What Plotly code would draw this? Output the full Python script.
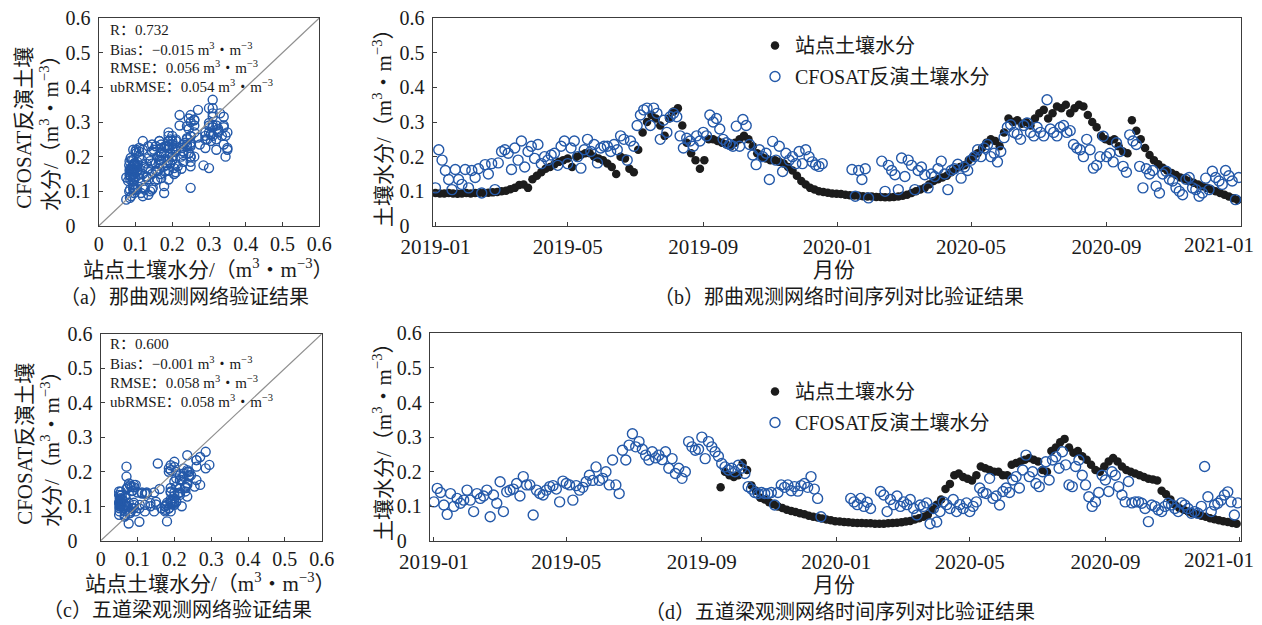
import plotly.graph_objects as go
import pandas as pd

# ---------------- data ----------------
START = "2019-01-01"
TICK_DATES = ["2019-01-01", "2019-05-01", "2019-09-01", "2020-01-01",
              "2020-05-01", "2020-09-01", "2021-01-01"]
TICK_TEXT = ["2019-01", "2019-05", "2019-09", "2020-01", "2020-05", "2020-09", "2021-01"]
SM_TICKS = [0, 0.1, 0.2, 0.3, 0.4, 0.5, 0.6]

# Naqu station soil moisture, one value every 4 days from 2019-01-01
naqu_station = [
    0.095, 0.094, 0.094, 0.095, 0.094, 0.093, 0.094, 0.095, 0.094, 0.095, 0.096, 0.095, 0.096, 0.097, 0.098,
    0.100, 0.102, 0.106, 0.110, 0.118, 0.120, 0.110,
    0.135, 0.145, 0.155, 0.165, 0.170, 0.178, 0.185, 0.190,
    0.195, 0.170, 0.200, 0.205, 0.210, 0.210, 0.200, 0.195, 0.190, 0.180, 0.170, 0.150, 0.200, 0.195, 0.165, 0.155,
    0.220, 0.270, 0.300, 0.320, 0.310, 0.290, 0.260, 0.310, 0.330, 0.340, 0.290, 0.240, 0.210, 0.190, 0.165, 0.190,
    0.250, 0.250, 0.245, 0.240, 0.235, 0.230, 0.240, 0.250, 0.260, 0.250, 0.230, 0.210, 0.200, 0.195, 0.190,
    0.190, 0.185, 0.180, 0.170, 0.160, 0.145, 0.130, 0.120, 0.110, 0.105, 0.100, 0.098, 0.096, 0.094, 0.093,
    0.092, 0.090, 0.089, 0.088, 0.087, 0.086, 0.085, 0.085, 0.084, 0.084, 0.083, 0.083, 0.084, 0.085,
    0.087, 0.090, 0.095, 0.100, 0.105, 0.110, 0.120, 0.130, 0.135, 0.140, 0.145, 0.155, 0.165, 0.170,
    0.175, 0.190, 0.200, 0.210, 0.225, 0.240, 0.250, 0.245, 0.230, 0.270, 0.310, 0.300, 0.305,
    0.295, 0.300, 0.290, 0.310, 0.325, 0.335, 0.310, 0.325, 0.345, 0.340, 0.350, 0.325, 0.340, 0.350, 0.345, 0.320, 0.300, 0.285,
    0.260, 0.250, 0.245, 0.250, 0.230, 0.215, 0.210, 0.305, 0.275, 0.250, 0.225, 0.205, 0.190, 0.178, 0.168, 0.160,
    0.153, 0.147, 0.140, 0.135, 0.130, 0.125, 0.120, 0.115, 0.110, 0.105, 0.100, 0.095, 0.090, 0.085, 0.080, 0.075,
]

# Naqu CFOSAT retrieval, one slot every 3 days from 2019-01-01 (None = no retrieval)
naqu_cfosat = [
    0.110, 0.220, 0.190, 0.160, 0.134, 0.105, 0.163, 0.134, 0.120, 0.163,
    0.110, 0.160, 0.140, 0.165, 0.095, 0.177, 0.150, 0.180, 0.105, 0.182,
    0.215, 0.220, 0.210, 0.163, 0.225, 0.190, 0.245, 0.170, 0.215, 0.230,
    0.195, 0.235, 0.180, 0.200, 0.190, 0.205, 0.210, 0.175, 0.230, 0.245,
    0.180, 0.225, 0.245, 0.200, 0.167, 0.220, 0.250, 0.215, 0.235, 0.182,
    0.225, 0.230, 0.230, 0.215, 0.235, 0.220, 0.260, 0.250, 0.190, 0.245,
    0.230, 0.290, 0.320, 0.335, 0.340, 0.290, 0.340, 0.325, 0.250, 0.305,
    0.270, 0.315, 0.325, 0.315, 0.260, 0.225, 0.253, 0.245, 0.230, 0.260,
    0.245, 0.270, 0.260, 0.320, 0.300, 0.310, 0.280, 0.250, 0.240, 0.235,
    0.230, 0.288, 0.230, 0.307, 0.290, 0.235, 0.205, 0.177, 0.220, 0.200,
    0.210, 0.134, 0.244, 0.190, 0.230, 0.157, 0.210, 0.190, 0.200, 0.180,
    0.215, 0.180, 0.220, 0.200, 0.185, 0.176, 0.172, 0.180, None, None,
    None, None, None, None, None, None, 0.163, 0.086, 0.160, 0.134,
    0.165, 0.081, None, None, None, 0.187, 0.100, 0.175, 0.160, 0.148,
    0.105, 0.196, 0.143, 0.190, 0.175, 0.105, 0.160, 0.170, 0.148, 0.110,
    0.150, 0.143, 0.165, 0.187, 0.150, 0.105, 0.160, 0.165, 0.178, 0.138,
    0.170, 0.160, 0.190, 0.200, 0.220, 0.200, 0.225, 0.235, 0.200, 0.210,
    0.185, 0.215, 0.255, 0.285, 0.292, 0.270, 0.265, 0.250, 0.290, 0.297,
    0.270, 0.260, 0.285, 0.270, 0.260, 0.364, 0.280, 0.270, 0.260, 0.285,
    0.290, 0.270, 0.275, 0.235, 0.225, 0.220, 0.200, 0.250, 0.220, 0.167,
    0.175, 0.200, 0.259, 0.200, 0.210, 0.185, 0.240, 0.215, 0.172, 0.155,
    0.263, 0.245, 0.235, 0.172, 0.110, 0.165, 0.150, 0.160, 0.115, 0.095,
    0.150, 0.158, 0.135, 0.130, 0.110, 0.100, 0.090, 0.135, 0.140, 0.110,
    0.105, 0.086, 0.095, 0.138, 0.105, 0.158, 0.140, 0.130, 0.120, 0.160,
    0.145, 0.130, 0.076, 0.140,
]

# Wudaoliang station soil moisture, one value every 4 days from 2019-01-01
wdl_station = [None] * 65 + [
    0.155, 0.200, 0.190, 0.185, 0.190, 0.225, 0.205, 0.160, 0.145, 0.125, 0.120, 0.112, 0.106, 0.100,
    0.095, 0.090, 0.087, 0.084, 0.080, 0.077, 0.073, 0.070, 0.068, 0.065, 0.062, 0.060, 0.057,
    0.056, 0.055, 0.054, 0.053, 0.052, 0.052, 0.051, 0.051, 0.050, 0.050, 0.050, 0.051, 0.052, 0.053,
    0.054, 0.056, 0.058,
    0.062, 0.066, 0.070, 0.076, 0.090, 0.105, 0.120, 0.150, 0.165, 0.190, 0.195, 0.185, 0.180, 0.175,
    0.190, 0.215, 0.210, 0.205, 0.200, 0.200, 0.190, 0.190,
    0.220, 0.225, 0.230, 0.235, 0.240, 0.235, 0.230, 0.205, 0.200, 0.260, 0.270, 0.285, 0.295, 0.270,
    0.255, 0.260, 0.245, 0.235, 0.220, 0.205,
    0.200, 0.215, 0.230, 0.240, 0.230, 0.215, 0.205, 0.200, 0.195, 0.190, 0.185, 0.180, 0.178, 0.175,
    0.145, 0.135, 0.120, 0.105, 0.095, 0.090, 0.085, 0.080, 0.077, 0.073, 0.070, 0.066, 0.063, 0.060,
    0.057, 0.055, 0.052, 0.050,
]

# Wudaoliang CFOSAT retrieval, one slot every 3 days from 2019-01-01
wdl_cfosat = [
    0.113, 0.152, 0.140, 0.104, 0.077, 0.137, 0.100, 0.123, 0.109, 0.118,
    0.147, 0.118, 0.085, 0.137, 0.123, 0.130, 0.147, 0.070, 0.133, 0.109,
    0.171, 0.085, 0.142, 0.147, 0.150, 0.166, 0.130, 0.186, 0.162, 0.162,
    0.075, 0.147, 0.137, 0.133, 0.147, 0.157, 0.160, 0.150, 0.113, 0.173,
    0.166, 0.162, 0.118, 0.160, 0.147, 0.155, 0.171, 0.190, 0.175, 0.214,
    0.175, 0.181, 0.200, 0.162, 0.234, 0.162, 0.137, 0.262, 0.234, 0.277,
    0.310, 0.272, 0.287, 0.265, 0.248, 0.234, 0.258, 0.240, 0.248, 0.235,
    0.258, 0.210, 0.238, 0.195, 0.210, 0.181, 0.200, 0.287, 0.272, 0.262,
    0.265, 0.300, 0.238, 0.287, 0.272, 0.258, 0.245, 0.224, 0.214, 0.205,
    0.210, 0.200, 0.219, 0.210, 0.195, 0.157, 0.150, 0.140, 0.137, 0.140,
    0.137, 0.137, 0.140, 0.104, 0.140, 0.162, 0.155, 0.162, 0.145, 0.157,
    0.144, 0.160, 0.166, 0.155, 0.186, 0.150, 0.123, 0.070, None, None,
    None, None, None, None, None, None, 0.123, 0.113, 0.105, 0.123,
    0.100, 0.112, 0.094, None, None, 0.143, 0.133, 0.085, 0.120, 0.105,
    0.130, 0.100, 0.113, 0.105, 0.120, 0.094, 0.075, 0.104, 0.100, 0.110,
    0.050, 0.094, 0.055, 0.085, 0.113, 0.105, 0.094, 0.120, 0.085, 0.105,
    0.094, 0.110, 0.085, 0.100, 0.113, 0.153, 0.140, 0.137, 0.181, 0.123,
    0.130, 0.104, 0.143, 0.153, 0.140, 0.176, 0.186, 0.153, 0.205, 0.248,
    0.186, 0.200, 0.166, 0.157, 0.200, 0.229, 0.176, 0.234, 0.243, 0.210,
    0.258, 0.220, 0.162, 0.157, 0.215, 0.234, 0.190, 0.162, 0.128, 0.100,
    0.113, 0.140, 0.190, 0.176, 0.143, 0.200, 0.190, 0.157, 0.133, 0.113,
    0.172, 0.110, 0.113, 0.113, 0.109, 0.094, 0.056, 0.104, 0.100, 0.090,
    0.085, 0.100, 0.109, 0.104, 0.094, 0.085, 0.110, 0.104, 0.094, 0.080,
    0.085, 0.080, 0.100, 0.215, 0.128, 0.085, 0.104, 0.109, 0.118, 0.133,
    0.142, 0.113, 0.075, 0.110,
]

STATS_NAQU = ["R：0.732", "Bias：−0.015 m<sup>3</sup>・m<sup>−3</sup>",
              "RMSE：0.056 m<sup>3</sup>・m<sup>−3</sup>", "ubRMSE：0.054 m<sup>3</sup>・m<sup>−3</sup>"]
STATS_WDL = ["R：0.600", "Bias：−0.001 m<sup>3</sup>・m<sup>−3</sup>",
             "RMSE：0.058 m<sup>3</sup>・m<sup>−3</sup>", "ubRMSE：0.058 m<sup>3</sup>・m<sup>−3</sup>"]

ONE_TO_ONE = [0, 0.6]

station_dates = pd.date_range(START, periods=len(naqu_station), freq="4D")
cfosat_dates = pd.date_range(START, periods=len(naqu_cfosat), freq="3D")


def matched_pairs(station, cfosat):
    """Pair each CFOSAT retrieval with the station sample nearest in time."""
    xs, ys = [], []
    for i, v in enumerate(cfosat):
        if v is None:
            continue
        j = int(round(3 * i / 4))
        if j < len(station) and station[j] is not None:
            xs.append(station[j])
            ys.append(v)
    return xs, ys


naqu_x, naqu_y = matched_pairs(naqu_station, naqu_cfosat)
wdl_x, wdl_y = matched_pairs(wdl_station, wdl_cfosat)

# ---------------- styling ----------------
W, H = 1262, 625


def fx(px):
    return px / W


def fy(py):
    return 1 - py / H


SERIF = "Liberation Serif, Times New Roman, Noto Sans CJK SC, serif"
MIX = "Liberation Serif, Noto Sans CJK SC, serif"
BLUE = "#2459a9"
BLACK = "#1c1c1c"
TXT = "#1a1a1a"
LINE = "#3c3c3c"

fig = go.Figure()

# (a) scatter
fig.add_trace(go.Scatter(x=naqu_x, y=naqu_y, mode="markers", xaxis="x", yaxis="y",
                         marker=dict(symbol="circle-open", size=9, color=BLUE, line=dict(width=1.4, color=BLUE)),
                         showlegend=False))
fig.add_trace(go.Scatter(x=ONE_TO_ONE, y=ONE_TO_ONE, mode="lines", xaxis="x", yaxis="y",
                         line=dict(color="#8f8f8f", width=1.2), showlegend=False))
# (b) time series
fig.add_trace(go.Scatter(x=station_dates, y=naqu_station, mode="markers", xaxis="x2", yaxis="y2",
                         name="站点土壤水分", legend="legend", legendgroup="s1",
                         marker=dict(symbol="circle", size=8.5, color=BLACK)))
fig.add_trace(go.Scatter(x=cfosat_dates, y=naqu_cfosat, mode="markers", xaxis="x2", yaxis="y2",
                         name="CFOSAT反演土壤水分", legend="legend", legendgroup="c1",
                         marker=dict(symbol="circle-open", size=10, color=BLUE, line=dict(width=1.4, color=BLUE))))
# (c) scatter
fig.add_trace(go.Scatter(x=wdl_x, y=wdl_y, mode="markers", xaxis="x3", yaxis="y3",
                         marker=dict(symbol="circle-open", size=9, color=BLUE, line=dict(width=1.4, color=BLUE)),
                         showlegend=False))
fig.add_trace(go.Scatter(x=ONE_TO_ONE, y=ONE_TO_ONE, mode="lines", xaxis="x3", yaxis="y3",
                         line=dict(color="#8f8f8f", width=1.2), showlegend=False))
# (d) time series
fig.add_trace(go.Scatter(x=station_dates, y=wdl_station, mode="markers", xaxis="x4", yaxis="y4",
                         name="站点土壤水分", legend="legend2", legendgroup="s2",
                         marker=dict(symbol="circle", size=8.5, color=BLACK)))
fig.add_trace(go.Scatter(x=cfosat_dates, y=wdl_cfosat, mode="markers", xaxis="x4", yaxis="y4",
                         name="CFOSAT反演土壤水分", legend="legend2", legendgroup="c2",
                         marker=dict(symbol="circle-open", size=10, color=BLUE, line=dict(width=1.4, color=BLUE))))

base = dict(showline=True, linecolor=LINE, linewidth=1.3, mirror=True, ticks="inside", ticklen=4,
            tickwidth=1.1, tickcolor=LINE, showgrid=False, zeroline=False, automargin=False,
            tickfont=dict(family=SERIF, size=20, color=TXT))

ylab = ["0\u2008\u2007"] + [f"{v:g}" for v in SM_TICKS[1:]]
xlab = [f"{v:g}" for v in SM_TICKS]

yax = dict(base, range=[0, 0.6], tickvals=SM_TICKS, ticktext=ylab, ticklabelstandoff=3)
sx = dict(base, range=[0, 0.6], tickvals=SM_TICKS, ticktext=xlab)
tx = dict(base, type="date", tickvals=TICK_DATES, ticktext=TICK_TEXT[:-1] + [""], ticklabelstandoff=2,
          tickfont=dict(family=SERIF, size=21, color=TXT))

fig.update_layout(
    width=W, height=H, margin=dict(l=0, r=0, t=0, b=0, pad=0, autoexpand=False),
    paper_bgcolor="white", plot_bgcolor="white",
    xaxis=dict(sx, domain=[fx(98.7), fx(319.3)], anchor="y"),
    yaxis=dict(yax, domain=[fy(226), fy(18)], anchor="x"),
    xaxis2=dict(tx, domain=[fx(432.7), fx(1241)], anchor="y2", range=["2018-12-29 12:00", "2021-01-01"]),
    yaxis2=dict(yax, domain=[fy(226), fy(18)], anchor="x2"),
    xaxis3=dict(sx, domain=[fx(100.7), fx(321.7)], anchor="y3"),
    yaxis3=dict(yax, domain=[fy(540.7), fy(334)], anchor="x3"),
    xaxis4=dict(tx, domain=[fx(430), fx(1241)], anchor="y4", range=["2018-12-28 10:00", "2021-01-02"]),
    yaxis4=dict(yax, domain=[fy(541), fy(333.3)], anchor="x4"),
    legend=dict(x=fx(755), y=fy(26), xanchor="left", yanchor="top", bgcolor="rgba(0,0,0,0)",
                font=dict(family=MIX, size=20, color=TXT), tracegroupgap=2),
    legend2=dict(x=fx(755), y=fy(372), xanchor="left", yanchor="top", bgcolor="rgba(0,0,0,0)",
                 font=dict(family=MIX, size=20, color=TXT), tracegroupgap=2),
)

ann = []


def text(t, x, y, size=20, angle=0, xanchor="center"):
    ann.append(dict(text=t, x=fx(x), y=fy(y), xref="paper", yref="paper", showarrow=False,
                    xanchor=xanchor, yanchor="middle", textangle=angle,
                    font=dict(family=MIX, size=size, color=TXT)))


for k, s in enumerate(STATS_NAQU):
    text(s, 108, [30, 48.5, 67, 86][k], size=15, xanchor="left")
for k, s in enumerate(STATS_WDL):
    text(s, 108, [344, 363, 382, 401][k], size=15, xanchor="left")

unit = "（m<sup>3</sup>・m<sup>−3</sup>）"
text("CFOSAT反演土壤<br>水分/" + unit, 38, 128, size=21, angle=-90)
text("CFOSAT反演土壤<br>水分/" + unit, 38, 444, size=21, angle=-90)
text("站点土壤水分/" + unit, 208, 268, size=21)
text("站点土壤水分/" + unit, 210, 582, size=21)
text("（a）那曲观测网络验证结果", 184, 297, size=20)
text("（c）五道梁观测网络验证结果", 178, 610, size=20)
text("土壤水分/" + unit, 383, 123, size=21, angle=-90)
text("土壤水分/" + unit, 382, 437, size=21, angle=-90)
text("月份", 834, 270, size=21)
text("月份", 834, 585, size=21)
text("（b）那曲观测网络时间序列对比验证结果", 839, 297, size=20)
text("（d）五道梁观测网络时间序列对比验证结果", 840, 612, size=20)
# last date tick label, kept inside the figure as in the reference
ann.append(dict(text=TICK_TEXT[-1], x="2021-01-01", xref="x2", y=fy(245), yref="paper", xshift=-22,
                showarrow=False, xanchor="center", yanchor="middle",
                font=dict(family=SERIF, size=21, color=TXT)))
ann.append(dict(text=TICK_TEXT[-1], x="2021-01-01", xref="x4", y=fy(560), yref="paper", xshift=-21,
                showarrow=False, xanchor="center", yanchor="middle",
                font=dict(family=SERIF, size=21, color=TXT)))

fig.update_layout(annotations=ann)
fig.write_html("out.html", config={"displayModeBar": False},
               post_script="document.body.style.margin='0px';")
